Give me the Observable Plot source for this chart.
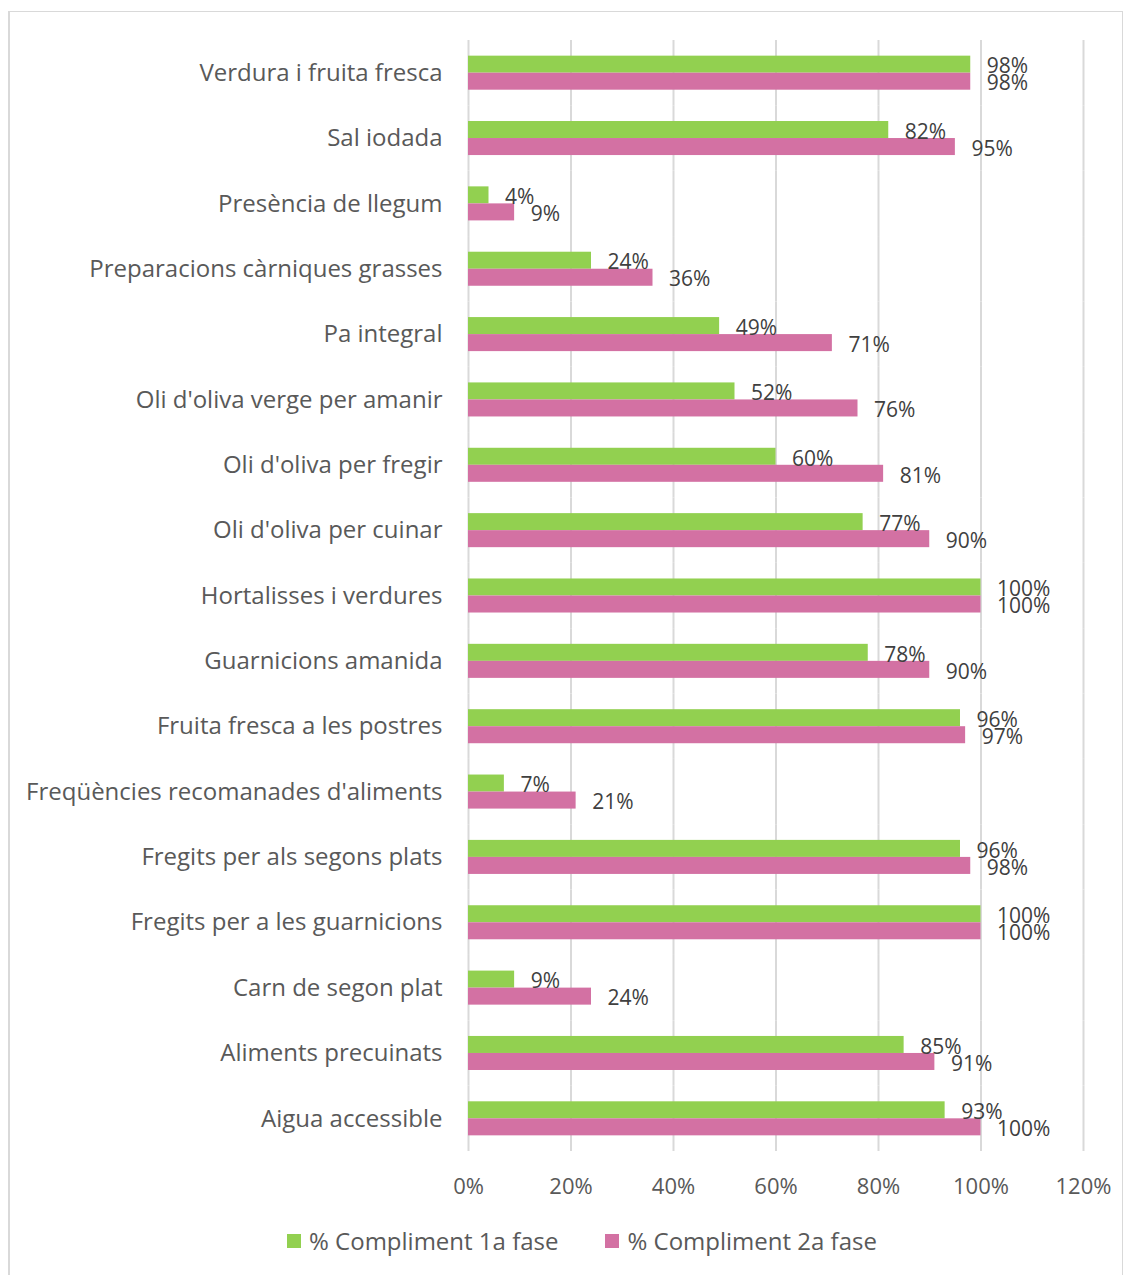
<!DOCTYPE html>
<html>
<head>
<meta charset="utf-8">
<script src="https://cdn.jsdelivr.net/npm/d3@7"></script>
<script src="https://cdn.jsdelivr.net/npm/@observablehq/plot@0.6"></script>
<style>
  html, body { margin: 0; padding: 0; background: #fff; }
  body { width: 1132px; height: 1275px; position: relative; overflow: hidden; font-family: "Open Sans", sans-serif; }
  #frame { position: absolute; left: 8px; top: 11px; width: 1112px; height: 1300px; border-top: 1px solid #d9d9d9; border-left: 2px solid #d9d9d9; border-right: 1px solid #d9d9d9; }
  #chart { position: absolute; left: 0; top: 0; }
  #legend { position: absolute; left: 287px; top: 1224px; display: flex; align-items: center; font-size: 24px; color: #595959; white-space: nowrap; }
  #legend .item { display: flex; align-items: center; margin-right: 47px; }
  #legend .sw { width: 14px; height: 14px; margin-right: 8px; }
</style>
</head>
<body>
<div id="frame"></div>
<div id="chart"></div>
<div id="legend"></div>
<script>
const categories = [
  "Verdura i fruita fresca",
  "Sal iodada",
  "Presència de llegum",
  "Preparacions càrniques grasses",
  "Pa integral",
  "Oli d'oliva verge per amanir",
  "Oli d'oliva per fregir",
  "Oli d'oliva per cuinar",
  "Hortalisses i verdures",
  "Guarnicions amanida",
  "Fruita fresca a les postres",
  "Freqüències recomanades d'aliments",
  "Fregits per als segons plats",
  "Fregits per a les guarnicions",
  "Carn de segon plat",
  "Aliments precuinats",
  "Aigua accessible"
];
const phase1 = [98, 82, 4, 24, 49, 52, 60, 77, 100, 78, 96, 7, 96, 100, 9, 85, 93];
const phase2 = [98, 95, 9, 36, 71, 76, 81, 90, 100, 90, 97, 21, 98, 100, 24, 91, 100];
const seriesNames = ["% Compliment 1a fase", "% Compliment 2a fase"];
const seriesColors = ["#92D050", "#D371A3"];
const xTicks = [0, 20, 40, 60, 80, 100, 120];

const data = [];
categories.forEach((c, i) => {
  data.push({cat: c, series: seriesNames[0], value: phase1[i]});
  data.push({cat: c, series: seriesNames[1], value: phase2[i]});
});

const chart = Plot.plot({
  width: 1132,
  height: 1215,
  marginTop: 40,
  marginBottom: 64,
  marginLeft: 468,
  marginRight: 49,
  style: {fontFamily: "Open Sans", background: "transparent"},
  x: {domain: [0, 120], axis: null},
  y: {domain: seriesNames, paddingInner: 0, paddingOuter: 0.92, round: false, axis: null},
  fy: {domain: categories, padding: 0, round: false, axis: null},
  color: {domain: seriesNames, range: seriesColors},
  marks: [
    Plot.ruleX(xTicks, {x: d => d, stroke: "#d9d9d9", strokeWidth: 2}),
    Plot.barX(data, {fy: "cat", y: "series", x: "value", fill: "series", inset: 0}),
    Plot.text(data, {fy: "cat", y: "series", x: "value", text: d => d.value + "%", textAnchor: "start", dx: 16, dy: 2, fontSize: 21, fill: "#404040"}),
    Plot.axisFy({domain: categories, anchor: "left", label: null, tickSize: 0, tickPadding: 26, fontSize: 24, color: "#595959"}),
    Plot.axisX({ticks: xTicks, tickFormat: d => d + "%", label: null, tickSize: 0, tickPadding: 27, fontSize: 22, color: "#595959"})
  ]
});
document.getElementById("chart").appendChild(chart);

const legend = document.getElementById("legend");
seriesNames.forEach((s, i) => {
  const item = document.createElement("div");
  item.className = "item";
  const sw = document.createElement("div");
  sw.className = "sw";
  sw.style.background = seriesColors[i];
  const t = document.createElement("span");
  t.textContent = s;
  item.appendChild(sw);
  item.appendChild(t);
  legend.appendChild(item);
});
</script>
</body>
</html>
